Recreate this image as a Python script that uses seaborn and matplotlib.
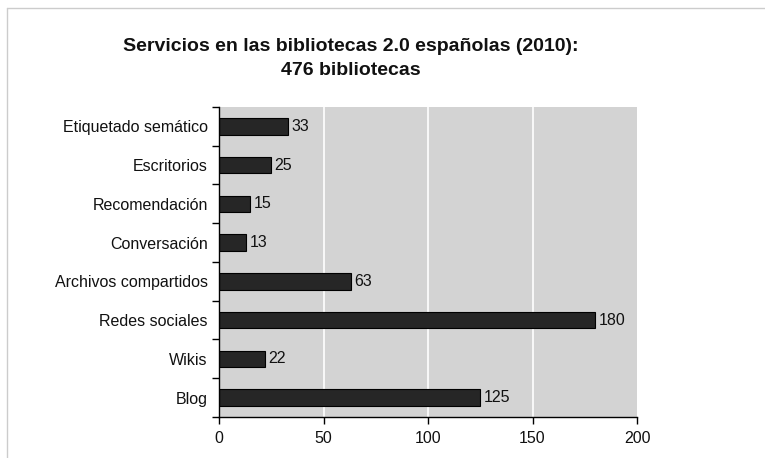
import numpy as np
import pandas as pd
import matplotlib
matplotlib.use('Agg')
import matplotlib.pyplot as plt
import seaborn as sns
from matplotlib.lines import Line2D

# data (top to bottom)
servicios = ['Etiquetado semático', 'Escritorios', 'Recomendación', 'Conversación',
             'Archivos compartidos', 'Redes sociales', 'Wikis', 'Blog']
bibliotecas = [33, 25, 15, 13, 63, 180, 22, 125]
xticks = [0, 50, 100, 150, 200]

df = pd.DataFrame({'servicio': servicios, 'n': bibliotecas})

sns.set_theme(style='white')
plt.rcParams['font.family'] = ['Liberation Sans', 'DejaVu Sans']

fig = plt.figure(figsize=(7.65, 4.58), dpi=100)
ax = fig.add_axes([0.2863, 0.0895, 0.5464, 0.677])

sns.barplot(data=df, x='n', y='servicio', orient='h', color='#262626',
            edgecolor='black', linewidth=0.8, width=0.43, saturation=1, ax=ax)

ax.set_facecolor('#d3d3d3')
ax.set_xlim(0, 200)
ax.set_ylim(len(servicios) - 0.5, -0.5)
ax.set_xticks(xticks)
ax.set_xticklabels([str(t) for t in xticks])
for t in xticks[1:-1]:
    ax.axvline(t, color='white', linewidth=1.2, zorder=0.5)

fs = 11.5
# category boundaries get the tick marks
ax.set_yticks(np.arange(len(servicios) + 1) - 0.5, minor=True)
ax.tick_params(axis='y', which='major', length=0, pad=8, labelsize=fs, labelcolor='#111111')
ax.tick_params(axis='y', which='minor', length=5, width=1, color='black', direction='out', left=True)
ax.tick_params(axis='x', which='major', length=5, width=1, color='black', direction='out',
               bottom=True, labelsize=fs, labelcolor='#111111', pad=5)

ax.set_xlabel('')
ax.set_ylabel('')
for s in ['top', 'right']:
    ax.spines[s].set_visible(False)
for s in ['left', 'bottom']:
    ax.spines[s].set_color('black')
    ax.spines[s].set_linewidth(1)

for i, v in enumerate(bibliotecas):
    ax.text(v + 1.5, i, str(v), va='center', ha='left', fontsize=fs, color='#111111')

fig.text(0.459, 0.872, 'Servicios en las bibliotecas 2.0 españolas (2010):\n476 bibliotecas',
         ha='center', va='center', fontsize=14, fontweight='bold', linespacing=1.5, color='#111111')

# light frame around the picture
fig.add_artist(Line2D([7 / 765, 7 / 765], [0, 1 - 8 / 458], transform=fig.transFigure,
                      color='#cccccc', linewidth=1))
fig.add_artist(Line2D([7 / 765, 1], [1 - 8 / 458, 1 - 8 / 458], transform=fig.transFigure,
                      color='#cccccc', linewidth=1))

fig.savefig('out.png', dpi=100)
